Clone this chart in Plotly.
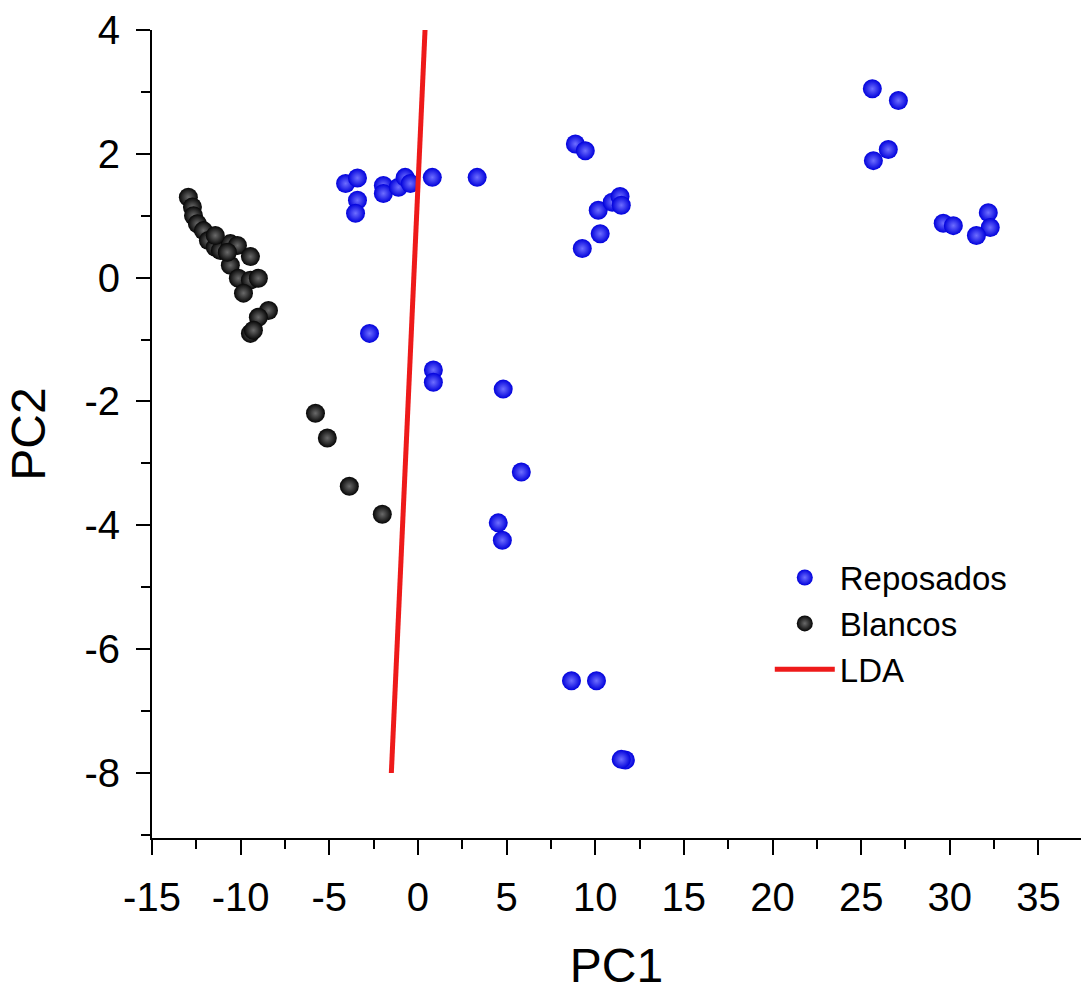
import plotly.graph_objects as go

# Reposados (blue)
rep_x = [-4.08, -3.41, -3.41, -3.52, -1.95, -1.95, -1.10, -0.72, -0.43, 0.81, 3.34,
         8.88, 9.44, 10.17, 10.96, 11.40, 11.47, 10.28, 9.27,
         25.63, 27.10, 26.53, 25.69, 29.63, 30.20, 32.17, 32.28, 31.50,
         -2.73, 0.87, 0.87, 4.81, 5.83, 4.53, 4.76,
         8.66, 10.07, 11.70, 11.47]
rep_y = [1.52, 1.61, 1.25, 1.04, 1.49, 1.36, 1.46, 1.62, 1.52, 1.62, 1.62,
         2.16, 2.05, 1.09, 1.22, 1.31, 1.17, 0.71, 0.47,
         3.05, 2.86, 2.07, 1.89, 0.88, 0.84, 1.05, 0.81, 0.68,
         -0.90, -1.49, -1.69, -1.80, -3.14, -3.96, -4.24,
         -6.51, -6.51, -7.79, -7.78]

# Blancos (black)
bla_x = [-12.95, -12.72, -12.66, -12.44, -12.10, -11.82, -11.43, -11.14, -10.58, -10.18,
         -9.45, -10.58, -10.13, -9.45, -9.00, -9.84, -8.43, -9.00, -9.45, -9.28,
         -11.43, -10.75,
         -5.78, -5.11, -3.87, -2.01]
bla_y = [1.30, 1.14, 1.00, 0.87, 0.76, 0.60, 0.49, 0.44, 0.55, 0.52,
         0.34, 0.20, -0.01, -0.04, -0.01, -0.25, -0.53, -0.64, -0.90, -0.85,
         0.68, 0.41,
         -2.19, -2.59, -3.37, -3.82]

# LDA line
lda_x = [-1.5, 0.4]
lda_y = [-8.0, 4.0]

x_ticks = [-15, -10, -5, 0, 5, 10, 15, 20, 25, 30, 35]
y_ticks = [4, 2, 0, -2, -4, -6, -8]

FONT = "Liberation Sans, Arial, sans-serif"

fig = go.Figure()
fig.add_trace(go.Scatter(
    x=rep_x, y=rep_y, mode="markers", name="Reposados", legendgroup="a",
    marker=dict(size=19, color="#0000dc", line=dict(width=0),
                gradient=dict(type="radial", color="#6e6eff")),
))
fig.add_trace(go.Scatter(
    x=bla_x, y=bla_y, mode="markers", name="Blancos", legendgroup="b",
    marker=dict(size=19, color="#050505", line=dict(width=0),
                gradient=dict(type="radial", color="#6a6a6a")),
))
fig.add_trace(go.Scatter(
    x=lda_x, y=lda_y, mode="lines", name="LDA", legendgroup="c",
    line=dict(color="#ee1a1a", width=5),
))

fig.update_layout(
    width=1081, height=994,
    margin=dict(l=152, r=0, t=30, b=156),
    paper_bgcolor="white", plot_bgcolor="white",
    font=dict(family=FONT, color="black"),
    showlegend=True,
    legend=dict(
        x=0.665, y=0.357, xanchor="left", yanchor="top",
        font=dict(size=33, family=FONT, color="black"),
        bgcolor="rgba(0,0,0,0)", borderwidth=0,
        itemwidth=60, traceorder="grouped", tracegroupgap=0,
    ),
    xaxis=dict(
        range=[-15, 37.4], tickvals=x_ticks, ticktext=[str(v) for v in x_ticks],
        showgrid=False, zeroline=False, showline=True, linecolor="black", linewidth=2,
        ticks="outside", ticklen=15, tickwidth=2, tickcolor="black",
        minor=dict(ticks="outside", ticklen=9, tickwidth=2, tickcolor="black",
                   tick0=-15, dtick=2.5, showgrid=False),
        tickfont=dict(size=40, family=FONT, color="black"),
        ticklabelstandoff=8,
        title=dict(text="PC1", font=dict(size=48, family=FONT, color="black"), standoff=30),
    ),
    yaxis=dict(
        range=[-9.05, 4], tickvals=y_ticks, ticktext=[str(v) for v in y_ticks],
        showgrid=False, zeroline=False, showline=True, linecolor="black", linewidth=2,
        ticks="outside", ticklen=14, tickwidth=2, tickcolor="black",
        minor=dict(ticks="outside", ticklen=9, tickwidth=2, tickcolor="black",
                   tick0=-9, dtick=1, showgrid=False),
        tickfont=dict(size=40, family=FONT, color="black"),
        ticklabelstandoff=8,
        title=dict(text="PC2", font=dict(size=48, family=FONT, color="black"), standoff=24),
    ),
)

fig.write_html("out.html")
